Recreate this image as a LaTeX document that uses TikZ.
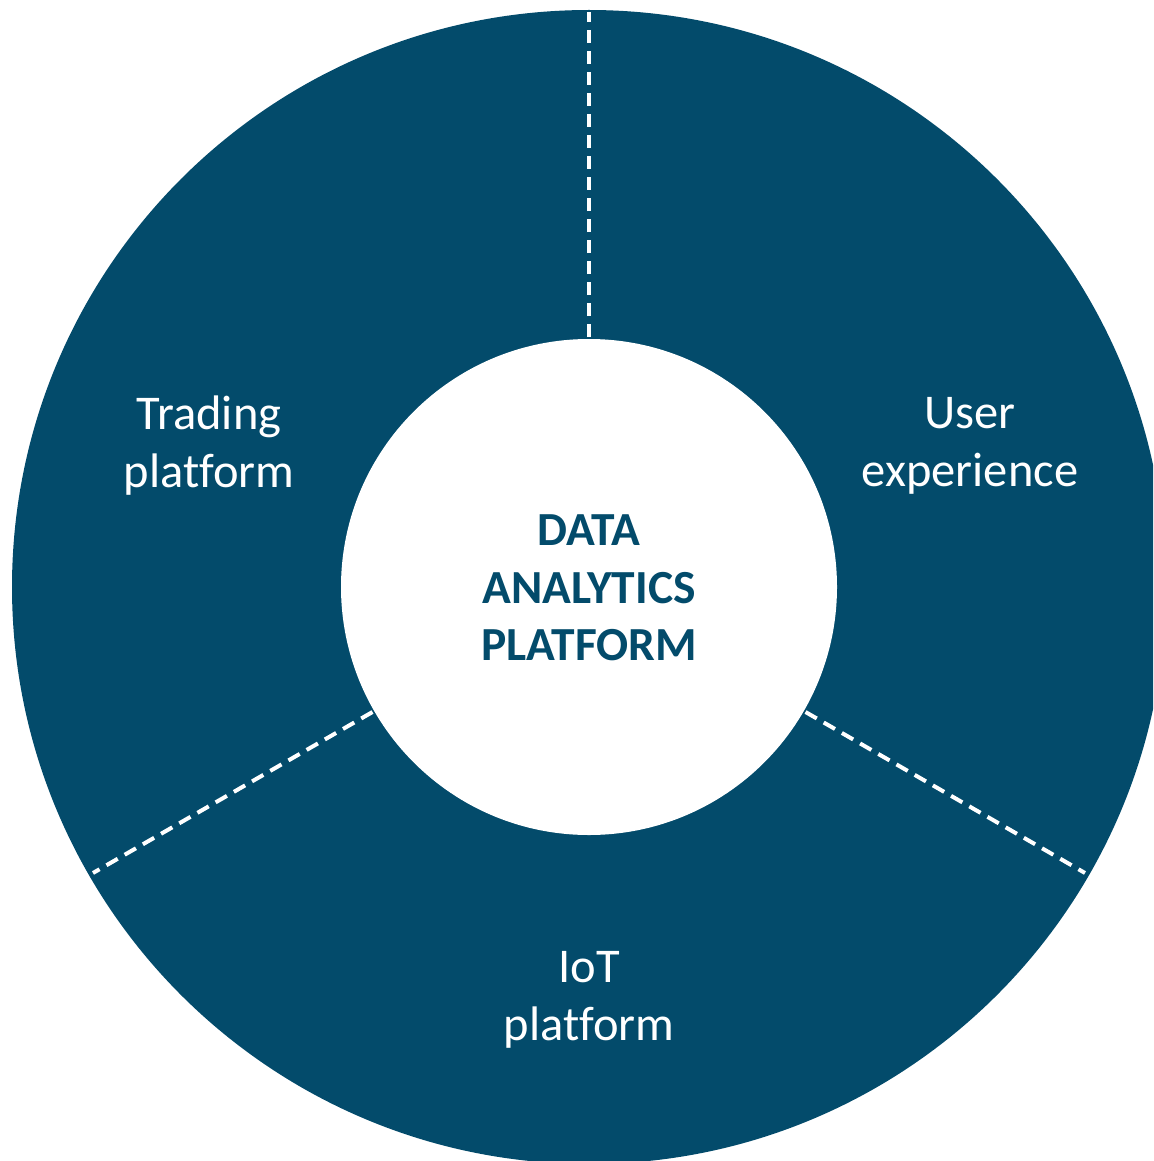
\documentclass[tikz,border=0pt]{standalone}
\usepackage{fontspec}
\usetikzlibrary{calc}
\setmainfont{Carlito}[Ligatures={NoCommon}]
\definecolor{teal}{HTML}{034B6B}
\begin{document}
\begin{tikzpicture}[x=1pt,y=-1pt,
  seglabel/.style={text=white,align=center,font=\fontsize{48.5}{58}\selectfont},
  hublabel/.style={text=teal,align=center,font=\bfseries\fontsize{47.5}{57.5}\selectfont},
  divider/.style={white,line width=4pt,dash pattern=on 13pt off 8pt}]
\useasboundingbox (0,0) rectangle (1153,1161);
\coordinate (c) at (589,587);
\begin{scope}
\clip (0,0) rectangle (1153,1161);
\fill[teal] (c) circle (577);
\end{scope}
\fill[white] (c) circle (248);
\draw[divider] ($(c)+(0,-250)$) -- ($(c)+(0,-575)$);
\draw[divider] ($(c)+(-216.5,125)$) -- ($(c)+(-496,286)$);
\draw[divider] ($(c)+(216.5,125)$) -- ($(c)+(496,286)$);
\node[seglabel] (trading) at (209,446) {Trading\\platform};
\node[seglabel] (user) at (970,446) {User\\experience};
\node[seglabel] (iot) at (589,1000) {IoT\\platform};
\node[hublabel] (hub) at (589,588) {DATA\\ANALYTICS\\PLATFORM};
\end{tikzpicture}
\end{document}
